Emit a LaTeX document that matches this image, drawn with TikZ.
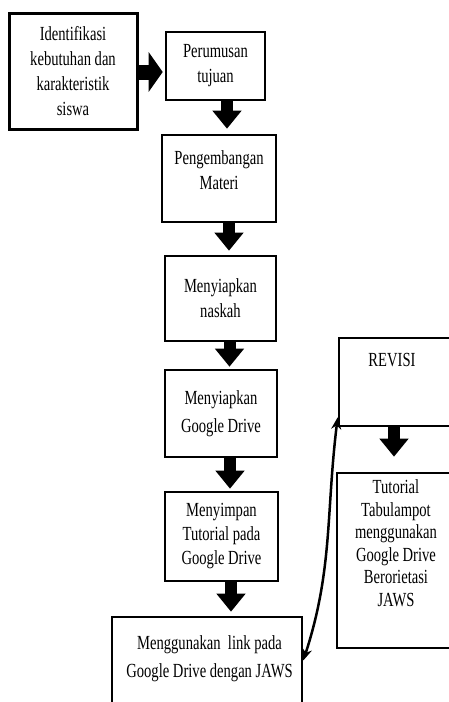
\documentclass[tikz,border=0pt]{standalone}
\usepackage{fontspec}
\setmainfont{Liberation Serif}[FakeStretch=0.73]
\usetikzlibrary{arrows.meta}

\tikzset{
  box/.style={draw, line width=2.6pt, inner sep=0pt, align=center, font=\fontsize{20}{25}\selectfont},
  boxtext/.style={inner sep=0pt, align=center, font=\fontsize{20}{25}\selectfont},
  blockarrow/.style={line width=12pt, -{Triangle[width=28pt,length=18pt]}},
  sidearrow/.style={line width=15pt, -{Triangle[width=39pt,length=14pt]}},
  backarrow/.style={line width=2.5pt, {Stealth[length=12pt,width=10pt]}-{Stealth[length=12pt,width=10pt]}}
}

\begin{document}
\begin{tikzpicture}[x=1pt,y=-1pt]
\clip (0,0) rectangle (449,702);
%Shape: Rectangle [id:ident]
\node[box, line width=3pt, minimum width=128pt, minimum height=116pt] (ident) at (73,71) {Identifikasi\\kebutuhan dan\\karakteristik\\siswa};
%Shape: Rectangle [id:rumus]
\node[box, minimum width=99pt, minimum height=68pt] (rumus) at (215.5,66) {Perumusan\\tujuan};
%Shape: Rectangle [id:materi]
\node[box, minimum width=114pt, minimum height=87pt,
  label={[boxtext, anchor=north, yshift=-17pt]north:{Pengembangan\\Materi}}] (materi) at (219,178.5) {};
%Shape: Rectangle [id:naskah]
\node[box, minimum width=111pt, minimum height=85pt] (naskah) at (220.5,298.5) {Menyiapkan\\naskah};
%Shape: Rectangle [id:gdrive]
\node[box, minimum width=112pt, minimum height=87pt, font=\fontsize{20}{28}\selectfont] (gdrive) at (221,413.5) {Menyiapkan\\Google Drive};
%Shape: Rectangle [id:simpan]
\node[box, minimum width=113pt, minimum height=89pt, font=\fontsize{20}{24}\selectfont] (simpan) at (221.5,536.5) {Menyimpan\\Tutorial pada\\Google Drive};
%Shape: Rectangle [id:link]
\node[box, minimum width=190pt, minimum height=95pt,
  label={[boxtext, font=\fontsize{20}{28}\selectfont, anchor=north, xshift=2.5pt, yshift=-20pt]north:{Menggunakan\ \ link pada\\Google Drive dengan JAWS}}] (link) at (207,664.5) {};
%Shape: Rectangle [id:revisi]
\node[box, minimum width=116pt, minimum height=88pt,
  label={[boxtext, anchor=north, xshift=-5pt, yshift=-16pt]north:REVISI}] (revisi) at (397,382) {};
%Shape: Rectangle [id:hasil]
\node[box, minimum width=118pt, minimum height=175pt,
  label={[boxtext, font=\fontsize{20}{22.5}\selectfont, anchor=north, yshift=-8pt]north:{Tutorial\\Tabulampot\\menggunakan\\Google Drive\\Berorietasi\\JAWS}}] (hasil) at (396,560.5) {};

%Block Arrows
\draw[sidearrow, shorten >=2pt] ([yshift=-1pt]ident.east) -- ([yshift=-6pt]rumus.west);
\draw[blockarrow, shorten >=5pt] ([xshift=11.5pt]rumus.south) -- ([xshift=8pt]materi.north);
\draw[blockarrow, shorten >=4pt] ([xshift=10pt]materi.south) -- ([xshift=8.5pt]naskah.north);
\draw[blockarrow, shorten >=2pt] ([xshift=9pt]naskah.south) -- ([xshift=8.5pt]gdrive.north);
\draw[blockarrow, shorten >=2pt] ([xshift=9pt]gdrive.south) -- ([xshift=8.5pt]simpan.north);
\draw[blockarrow, shorten >=4pt] ([xshift=9.5pt]simpan.south) -- ([xshift=24pt]link.north);
\draw[blockarrow, shorten >=15pt] ([xshift=-3pt]revisi.south) -- ([xshift=-2pt]hasil.north);

%Curve Lines
\draw[backarrow] ([yshift=4pt]link.east) to[out=72, in=-97] ([yshift=10pt]revisi.south west);
\end{tikzpicture}
\end{document}
